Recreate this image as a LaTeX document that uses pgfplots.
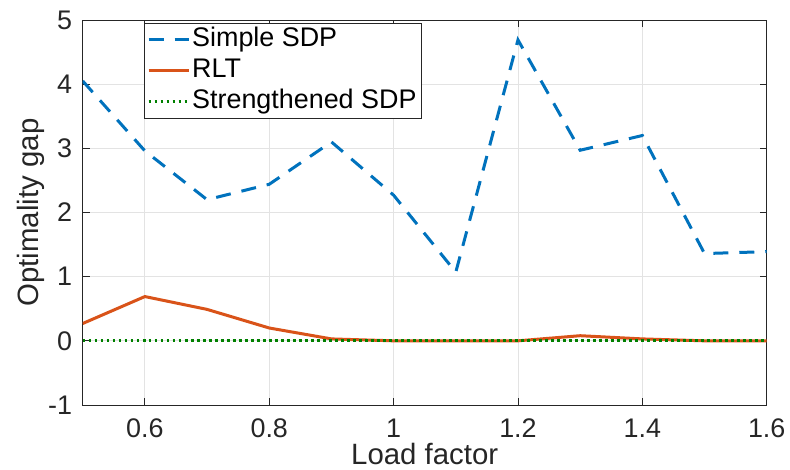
\documentclass[border=0pt]{standalone}
\usepackage{pgfplots}
\pgfplotsset{compat=1.18}
\usepackage{fontspec}
\setmainfont{Liberation Sans}
\definecolor{mblue}{rgb}{0,0.447,0.741}
\definecolor{morange}{rgb}{0.85,0.325,0.098}
\definecolor{mgreen}{rgb}{0,0.5,0}
\definecolor{axgray}{rgb}{0.15,0.15,0.15}
\begin{document}
\begin{tikzpicture}
\begin{axis}[
  at={(0,0)}, anchor=south west,
  scale only axis, width=684bp, height=385bp,
  xmin=0.5, xmax=1.6, ymin=-1, ymax=5,
  xtick={0.6,0.8,1,1.2,1.4,1.6},
  xticklabels={0.6,0.8,1,1.2,1.4,1.6},
  ytick={-1,0,1,2,3,4,5},
  yticklabels={-1,0,1,2,3,4,5},
  tick align=inside, major tick length=7bp,
  axis line style={axgray, line width=0.9bp},
  tick style={axgray, line width=0.9bp},
  grid=major, major grid style={gray!22, line width=0.9bp},
  font=\fontsize{27}{31}\selectfont,
  ticklabel style={font=\fontsize{27}{31}\selectfont, text=axgray, inner sep=0pt},
  xticklabel style={anchor=base, yshift=-32bp},
  yticklabel style={anchor=east, xshift=-10.5bp},
  xlabel={Load factor},
  ylabel={Optimality gap},
  label style={font=\fontsize{29.5}{34}\selectfont, text=axgray, inner sep=0pt},
  xlabel style={at={(axis description cs:0.5,0)}, anchor=base, yshift=-59bp},
  ylabel style={at={(axis description cs:0,0.5)}, anchor=base, yshift=44.5bp},
  legend cell align=left,
  legend style={at={(axis description cs:0.0896,0.992)}, anchor=north west,
    draw=axgray, fill=white,
    inner xsep=3bp, inner ysep=1bp,
    font=\fontsize{27}{31}\selectfont,
    nodes={text height=20bp, text depth=6bp, inner ysep=2.5bp, inner xsep=2bp},
    row sep=0pt},
]
\addplot[mblue, line width=3bp, dash pattern=on 15bp off 11bp,
  legend image code/.code={\draw[line width=3bp] (0bp,0bp) -- (40bp,0bp);}] coordinates {
(0.5,4.05) (0.6,2.96) (0.7,2.2) (0.8,2.44) (0.9,3.1) (1.0,2.27) (1.1,1.07) (1.2,4.69) (1.3,2.97) (1.4,3.2) (1.5,1.36) (1.6,1.39)};
\addlegendentry{Simple SDP}
\addplot[morange, line width=3bp,
  legend image code/.code={\draw[line width=3bp] (0bp,0bp) -- (40bp,0bp);}] coordinates {
(0.5,0.27) (0.6,0.69) (0.7,0.49) (0.8,0.2) (0.9,0.03) (1.0,0.0) (1.1,0.0) (1.2,0.0) (1.3,0.08) (1.4,0.03) (1.5,0.0) (1.6,0.0)};
\addlegendentry{RLT}
\addplot[mgreen, line width=3bp, dash pattern=on 2.8bp off 3.2bp,
  legend image code/.code={\draw[line width=3bp] (0bp,0bp) -- (40bp,0bp);}] coordinates {
(0.5,0) (0.6,0) (0.7,0) (0.8,0) (0.9,0) (1.0,0) (1.1,0) (1.2,0) (1.3,0) (1.4,0) (1.5,0) (1.6,0)};
\addlegendentry{Strengthened SDP}
\end{axis}
\path (-82.7bp,-65bp) rectangle (707.3bp,405bp);
\end{tikzpicture}
\end{document}
